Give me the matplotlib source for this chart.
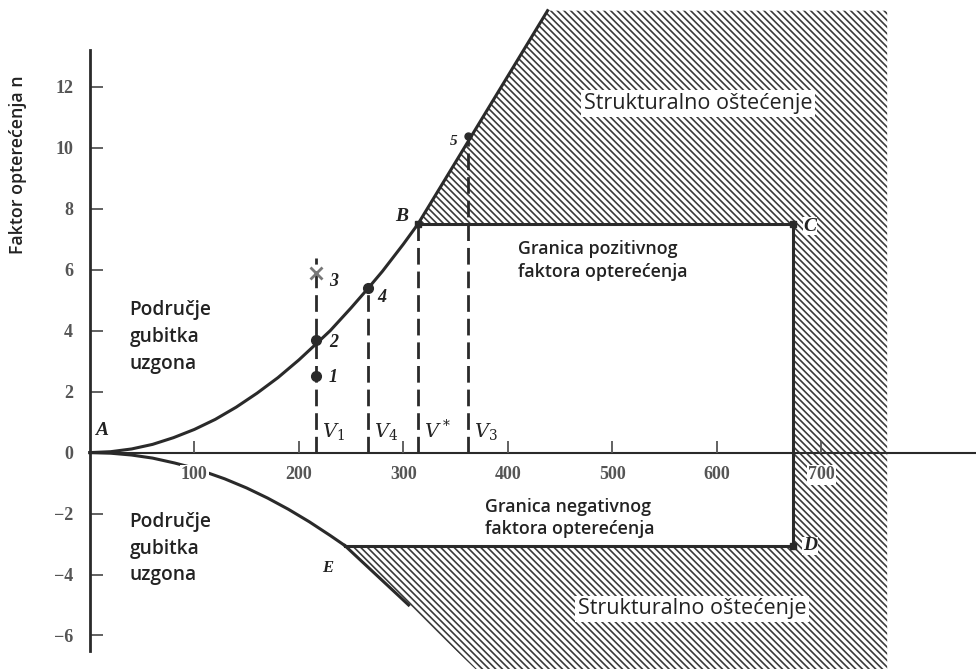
import numpy as np
import matplotlib
matplotlib.use('Agg')
import matplotlib.pyplot as plt
from matplotlib.patches import Polygon

plt.rcParams['hatch.color'] = '#3a3a3a'
plt.rcParams['hatch.linewidth'] = 1.2
plt.rcParams['mathtext.fontset'] = 'dejavuserif'

# brzine (V) i faktor opterecenja (n) ocitani sa slike
v_pos = [0, 20, 40, 60, 80, 100, 120, 140, 160, 180, 200, 216, 230, 250, 266, 280, 300, 314]
n_pos = [0, 0.03, 0.12, 0.27, 0.49, 0.76, 1.09, 1.49, 1.95, 2.46, 3.04, 3.55, 4.0, 4.75,
         5.38, 5.95, 6.84, 7.5]
v_neg = [0, 20, 40, 60, 81, 100, 129, 150, 170, 190, 210, 230, 244]
n_neg = [0, -0.02, -0.08, -0.18, -0.34, -0.51, -0.86, -1.16, -1.49, -1.86, -2.27, -2.72, -3.05]

v_1, v_4, v_star, v_3 = 216, 266, 314, 362
v_c = 673
n_max = 7.5
n_min = -3.05

pt_v = [216, 216, 216, 266, 362]
pt_n = [2.5, 3.7, 5.9, 5.4, 10.4]

# granice podrucja strukturalnog ostecenja
top_v, top_n = 438, 14.5
right_v = 763
bot_v, bot_n = 375, -7.3

xticks = [100, 200, 300, 400, 500, 600, 700]
yticks = [-6, -4, -2, 0, 2, 4, 6, 8, 10, 12]

fig = plt.figure(figsize=(9.76, 6.69), dpi=100)
ax = fig.add_axes([0, 0, 1, 1])
ax.set_xlim(-86, 848)
ax.set_ylim(-7.1, 14.85)

# srafirano podrucje
hatch_poly = [(v_star, n_max), (top_v, top_n), (right_v, top_n), (right_v, bot_n),
              (bot_v, bot_n), (244, n_min), (v_c, n_min), (v_c, n_max)]
ax.add_patch(Polygon(hatch_poly, closed=True, fill=False, hatch='\\\\\\\\\\',
                     edgecolor='#3a3a3a', linewidth=0, zorder=1))

dark = '#2a2a2a'
ax.plot(v_pos, n_pos, color=dark, lw=2.2, zorder=3)
ax.plot(v_neg, n_neg, color=dark, lw=2.2, zorder=3)
ax.plot([v_star, top_v], [n_max, top_n], color=dark, lw=2.2, zorder=3)
ax.plot([244, 305], [n_min, -5.0], color=dark, lw=2.2, zorder=3)
ax.plot([v_star, v_c, v_c], [n_max, n_max, n_min], color=dark, lw=2.2, zorder=3)
ax.plot([244, v_c], [n_min, n_min], color=dark, lw=2.2, zorder=3)

# isprekidane vertikale
for v, top in [(v_1, 6.4), (v_4, 5.4), (v_star, n_max), (v_3, 10.4)]:
    ax.plot([v, v], [0, top], color=dark, lw=2, ls=(0, (6, 2.5)), zorder=3)

ax.plot(pt_v[:2], pt_n[:2], 'o', color=dark, ms=7, zorder=4)
ax.plot(pt_v[2], pt_n[2], 'x', color='#777', ms=8, mew=2, zorder=4)
ax.plot(pt_v[3], pt_n[3], 'o', color=dark, ms=7, zorder=4)
ax.plot(pt_v[4], pt_n[4], 'o', color=dark, ms=5, zorder=4)
ax.plot([v_star, v_c, v_c], [n_max, n_max, n_min], 's', color=dark, ms=4, zorder=4)

# osi
for s in ['top', 'right']:
    ax.spines[s].set_visible(False)
ax.spines['left'].set_position(('data', 0))
ax.spines['bottom'].set_position(('data', 0))
ax.spines['left'].set_bounds(-6.5, 13.2)
ax.spines['bottom'].set_bounds(0, 848)
ax.spines['left'].set_linewidth(2)
ax.spines['bottom'].set_linewidth(1.5)
ax.spines['left'].set_color(dark)
ax.spines['bottom'].set_color(dark)
ax.set_xticks(xticks)
ax.set_yticks(yticks)
ax.tick_params(axis='both', direction='in', length=9, width=1.3, color='#555')
ax.tick_params(axis='y', pad=12)
ax.tick_params(axis='x', pad=10)
ax.set_xticklabels([str(t) for t in xticks], family='Liberation Serif',
                   fontsize=13, color='#555', fontweight='bold')
ax.set_yticklabels([str(t).replace('-', '\u2212') for t in yticks], family='Liberation Serif',
                   fontsize=13, color='#555', fontweight='bold')
for lab in ax.get_xticklabels():
    lab.set_bbox(dict(facecolor='white', edgecolor='none', pad=1))
ax.xaxis.set_zorder(3.5)

sans = 'Open Sans'
ax.text(-69, 9.45, 'Faktor opterećenja n', rotation=90, ha='center', va='center',
        family=sans, fontsize=12.8, fontweight='semibold', color='#222')
for y in [3.8, -3.15]:
    ax.text(38, y, 'Područje\ngubitka\nuzgona', ha='left', va='center', family=sans,
            fontsize=13.8, fontweight='semibold', color='#222', linespacing=1.45)
box = dict(facecolor='white', edgecolor='none', pad=2)
ax.text(582, 11.45, 'Strukturalno oštećenje', ha='center', va='center', family=sans,
        fontsize=15.5, color='#222', bbox=box, zorder=6)
ax.text(576, -5.13, 'Strukturalno oštećenje', ha='center', va='center', family=sans,
        fontsize=15.5, color='#222', bbox=box, zorder=6)
ax.text(410, 6.3, 'Granica pozitivnog\nfaktora opterećenja', ha='left', va='center',
        family=sans, fontsize=12.8, fontweight='semibold', color='#222', linespacing=1.3)
ax.text(378, -2.14, 'Granica negativnog\nfaktora opterećenja', ha='left', va='center',
        family=sans, fontsize=12.8, fontweight='semibold', color='#222', linespacing=1.3)

serif = dict(family='Liberation Serif', fontstyle='italic', fontweight='bold', color='#222')
ax.text(11, 0.72, 'A', fontsize=14, ha='center', va='center', **serif)
ax.text(298, 7.76, 'B', fontsize=14, ha='center', va='center', **serif)
ax.text(689, 7.43, 'C', fontsize=14, ha='center', va='center', **serif,
        bbox=dict(facecolor='white', edgecolor='none', pad=0.5), zorder=6)
ax.text(689, -3.06, 'D', fontsize=14, ha='center', va='center', **serif,
        bbox=dict(facecolor='white', edgecolor='none', pad=0.5), zorder=6)
ax.text(228, -3.8, 'E', fontsize=12, ha='center', va='center', **serif)
ax.text(348, 10.2, '5', fontsize=11, ha='center', va='center', **serif)
for t, x, y in [('3', 233, 5.6), ('4', 279, 5.1), ('2', 233, 3.6), ('1', 233, 2.45)]:
    ax.text(x, y, t, fontsize=13, ha='center', va='center', **serif)
for t, v in [('$V_1$', v_1), ('$V_4$', v_4), ('$V^*$', v_star), ('$V_3$', v_3)]:
    ax.text(v + 6, 0.35, t, fontsize=14, ha='left', va='bottom', color='#222',
            bbox=dict(facecolor='white', edgecolor='none', pad=0.5), zorder=5)

fig.savefig('out.png', dpi=100)
